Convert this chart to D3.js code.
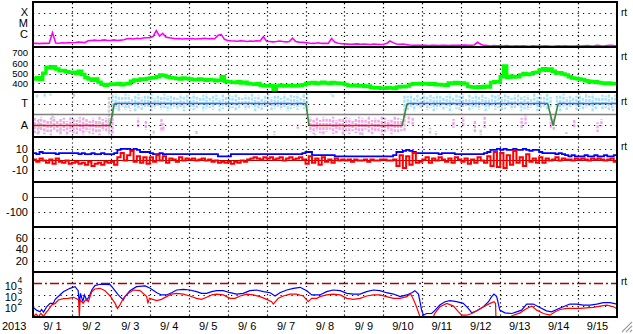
<!DOCTYPE html>
<html><head><meta charset="utf-8">
<script src="https://cdn.jsdelivr.net/npm/d3@7"></script>
<style>
body{margin:0;background:#fff;overflow:hidden}
svg{display:block;font-family:"Liberation Sans",Arial,Helvetica,sans-serif}
</style></head>
<body><svg id="c" width="633" height="334"></svg>
<script>
// ---------- labels ----------
const dayLabels = ["9/ 1","9/ 2","9/ 3","9/ 4","9/ 5","9/ 6","9/ 7","9/ 8","9/ 9","9/10","9/11","9/12","9/13","9/14","9/15"];
const yearLabel = "2013";
const xrayLabels = ["X","M","C"];
const xrayLevels = [1e-4,1e-5,1e-6];
const speedTicks = [700,600,500,400];
const sectorLabels = ["T","A"];
const bTicks = [10,-10];
const dstTicks = [-100];
const p6Ticks = [60,40,20];
const fluxExp = [4,3,2];

// ---------- data (2-hour samples, day = index/12) ----------
const xrayLog = [
-6.72,-6.70,-6.74,-6.70,-6.72,-6.70,-5.75,-6.68,-6.70,-6.66,-6.68,-6.65,
-6.66,-6.64,-6.60,-6.62,-6.65,-6.48,-6.45,-6.42,-6.46,-6.44,-6.40,-6.45,
-6.44,-6.40,-6.45,-6.42,-6.38,-6.30,-6.28,-6.32,-6.25,-6.30,-6.22,-6.20,
-6.20,-6.10,-5.55,-6.05,-5.80,-6.15,-6.20,-6.25,-6.30,-6.28,-6.32,-6.30,
-6.30,-6.28,-6.32,-6.30,-6.28,-6.25,-6.30,-6.28,-6.30,-6.00,-5.90,-6.35,
-6.45,-6.48,-6.50,-6.52,-6.48,-6.50,-6.55,-6.50,-6.52,-6.48,-6.50,-6.10,
-6.52,-6.55,-6.58,-6.55,-6.50,-6.55,-6.58,-6.55,-6.25,-6.55,-6.60,-6.62,
-6.65,-6.68,-6.72,-6.70,-6.66,-6.72,-6.70,-6.72,-6.28,-6.60,-6.70,-6.74,
-6.76,-6.78,-6.80,-6.78,-6.76,-6.80,-6.78,-6.80,-6.82,-6.78,-6.80,-6.82,
-6.80,-6.72,-6.50,-6.65,-6.78,-6.80,-6.78,-6.82,-6.86,-6.88,-6.90,-6.88,
-6.88,-6.90,-6.92,-6.88,-6.90,-6.92,-6.90,-6.88,-6.92,-6.90,-6.88,-6.90,
-6.88,-6.86,-6.90,-6.88,-6.86,-6.62,-6.80,-6.90,-6.92,-6.95,-6.92,-6.94,
-6.94,-6.96,-6.92,-6.95,-6.97,-6.94,-6.96,-6.93,-6.95,-6.98,-6.94,-6.96,
-6.95,-6.97,-6.94,-6.96,-6.98,-6.95,-6.93,-6.96,-6.94,-6.97,-6.95,-6.96,
-6.94,-6.96,-6.93,-6.92,-6.95,-6.94,-6.90,-6.93,-6.95,-6.92,-6.90,-6.92,-6.93];

const speed = [
445,460,440,510,575,565,580,555,535,540,525,520,
520,505,530,495,460,445,430,445,410,385,375,385,
390,385,395,380,390,395,420,435,430,445,440,450,
455,460,470,490,485,470,460,455,450,445,455,450,
445,440,435,445,440,430,440,435,425,430,470,420,
415,410,405,415,400,410,395,390,385,395,375,370,
365,372,320,368,375,365,370,372,365,370,375,380,
395,400,405,395,400,410,400,395,405,400,398,395,
385,372,368,375,365,370,360,368,350,345,348,342,
340,348,345,338,355,362,358,365,385,392,388,395,
390,395,385,392,380,385,378,375,400,395,405,398,
400,390,360,355,350,358,352,365,355,405,415,410,
470,590,460,475,465,470,490,505,495,500,515,520,
545,560,540,555,530,510,515,500,490,470,455,450,
445,440,425,420,410,415,405,400,395,400,390,395,395];

const phiHi = [
-0.3,-0.5,-0.2,-0.4,-0.6,-0.3,-0.2,-0.5,-0.4,-0.3,-0.6,-0.2,-0.4,-0.5,-0.3,-0.2,-0.4,-0.6,-0.3,-0.5,-0.2,-0.4,-0.3,-0.5,
1.8,
1.9,1.7,1.6,1.9,1.8,1.5,1.7,1.9,1.6,1.8,1.7,1.9,1.5,1.8,1.6,1.9,1.7,1.8,1.6,1.5,
1.9,1.7,1.8,1.6,1.9,1.7,1.5,1.8,1.9,1.6,1.7,1.8,1.5,1.9,1.6,1.8,1.7,1.9,1.6,1.5,
1.8,1.7,1.9,1.6,1.8,1.5,1.7,1.9,1.6,1.8,1.7,1.5,1.9,1.6,1.8,1.7,1.9,1.6,1.8,1.9,
-0.2,-0.4,-0.3,-0.5,-0.2,-0.3,-0.4,-0.2,-0.5,-0.3,-0.4,-0.2,-0.3,-0.5,-0.4,
-0.2,-0.3,-0.4,-0.2,-0.5,-0.3,-0.4,-0.2,-0.3,-0.5,-0.4,-0.2,-0.3,-0.4,
1.8,
1.7,1.9,1.6,1.8,1.5,1.9,1.7,1.8,1.6,1.9,1.8,1.5,1.7,1.9,1.6,1.8,1.7,1.9,1.5,1.8,
1.6,1.9,1.7,1.8,1.6,1.5,1.9,1.7,1.8,1.6,1.9,1.7,1.5,1.8,1.9,1.6,1.7,1.8,1.5,1.9,
1.6,1.8,1.7,1.9,1.6,
-0.2,
1.8,1.7,1.9,1.6,1.8,1.5,1.7,1.9,1.6,1.8,1.7,1.9,1.6,1.5,1.8,1.7,1.9,1.6,1.8];
const phiLo = [
-1.7,-1.9,-1.5,-1.8,-1.6,-1.9,-1.4,-1.7,-1.8,-1.5,-1.9,-1.6,-1.7,-1.8,-1.5,-1.9,-1.6,-1.4,-1.8,-1.7,-1.9,-1.5,-1.6,-1.8,
-1.9,
0.5,0.3,0.7,0.4,0.6,0.8,0.3,0.5,0.4,0.6,0.7,0.3,0.5,0.8,0.4,0.6,0.3,0.5,0.7,0.4,
0.6,0.3,0.8,0.5,0.4,0.6,0.7,0.3,0.5,0.6,0.4,0.8,0.3,0.5,0.7,0.4,0.6,0.3,0.5,0.8,
0.4,0.6,0.7,0.3,0.5,0.4,0.6,0.8,0.3,0.5,0.7,0.4,0.6,0.3,0.5,0.6,0.4,0.7,0.5,0.3,
-1.6,-1.8,-1.5,-1.7,-1.9,-1.6,-1.4,-1.8,-1.7,-1.5,-1.9,-1.6,-1.8,-1.5,-1.7,
-1.6,-1.9,-1.4,-1.7,-1.8,-1.5,-1.6,-1.9,-1.7,-1.5,-1.8,-1.6,-1.7,-1.5,
-1.5,
0.4,0.6,0.3,0.7,0.5,0.8,0.4,0.6,0.3,0.5,0.7,0.4,0.6,0.3,0.8,0.5,0.4,0.6,0.7,0.3,
0.5,0.6,0.4,0.8,0.3,0.5,0.7,0.4,0.6,0.3,0.5,0.8,0.4,0.6,0.7,0.3,0.5,0.4,0.6,0.8,
0.3,0.5,0.7,0.4,0.6,
-1.4,
0.5,0.3,0.7,0.4,0.6,0.8,0.3,0.5,0.4,0.6,0.7,0.3,0.5,0.8,0.4,0.6,0.3,0.5,0.7];
// extra scattered phi samples: [day, from, to]
const strayPink = [[2.7,-0.3,-1.2],[2.9,-0.5,-1.4],[3.3,-0.4,-1.6],[3.35,-0.8,-1.5],[6.8,-0.9,-1.3],[9.65,-0.1,-0.8],[9.75,-0.3,-0.9],[10.8,-0.4,-1.2],[11.05,-0.2,-1.0],[11.35,-0.5,-1.6],[11.6,-0.2,-1.3],[12.55,-0.3,-1.4],[12.65,-0.1,-0.9],[13.3,-0.2,-1.2],[13.9,-0.5,-1.3],[14.5,-0.7,-1.6],[14.6,-0.4,-1.1]];
const strayBlue = [[0.1,1.5,1.9],[0.3,1.6,1.9],[0.45,1.7,1.9],[7.65,1.7,1.9],[7.7,1.6,1.9],[8.1,1.8,1.9]];
const strayGray = [[0.15,-0.4,-1.8],[0.5,0.1,-0.6],[0.7,-1.2,-1.8],[1.05,1.5,1.9],[1.2,-0.2,-0.8],[1.45,-1.3,-1.9],[1.7,-0.5,-1.6],[1.95,1.6,-1.9],[2.2,0.4,0.9],[2.5,0.3,0.6],[3.1,-1.4,-1.9],[4.2,-1.5,-1.9],[6.2,-1.5,-1.9],[6.95,1.6,1.9],[7.25,-1.7,-1.9],[8.4,-1.6,-1.9],[10.2,-1.2,-1.9],[10.35,-1.5,-1.9],[11.5,-1.3,-1.9],[12.0,-1.4,-1.8],[13.7,-1.6,-1.9],[14.2,1.7,1.9],[14.9,0.3,0.6]];
const sectorDay = [0,1.98,2.09,7.01,7.09,9.48,9.61,13.22,13.36,13.49,15];
const sectorVal = [-1,-1,1,1,-1,-1,1,1,-1,1,1];

const bt = [
6,5,7,6,6,6,6,5,6,6,6,6,
6,6,5,6,5,5,6,5,5,6,5,5,
5,6,9,10,10,10,9,10,9,7,7,7,
6,5,5,6,5,5,5,5,5,5,5,5,
5,5,5,5,5,5,5,5,5,3,3,3,
3,5,5,5,5,5,5,5,5,5,5,5,
5,5,5,5,5,5,5,5,5,5,5,6,
7,7,4,4,4,4,4,4,4,3,3,3,
3,3,3,3,3,3,3,3,3,3,3,3,
3,3,3,4,7,7,8,9,8,7,6,6,
6,6,6,6,6,5,6,6,6,6,5,5,
5,5,5,5,5,5,5,6,7,9,9,10,
9,10,9,9,10,9,9,10,9,8,9,9,
7,6,6,6,6,5,6,5,4,3,4,3,
3,3,4,3,3,4,3,3,4,3,3,4,5];
const bz = [
0,-2,1,-1,-3,0,-4,1,-2,-3,-1,-4,
-3,-2,-4,-3,-5,-2,-6,-4,-3,-5,-2,-3,
-2,-5,2,6,-1,4,8,-2,3,-3,2,-4,
2,-2,4,-1,3,-3,1,0,-2,2,-1,1,
0,1,-1,0,1,-1,0,-2,-1,-3,-2,-3,
-2,-4,-2,-3,-1,-2,0,1,2,1,0,2,
1,2,0,1,2,-1,1,2,0,1,2,0,
-4,3,-3,1,-5,2,-2,0,-3,1,-1,0,
-1,0,-2,0,-1,-1,0,-2,0,-1,-1,0,
0,-1,-1,0,-6,4,-8,3,-5,6,-3,-2,
0,2,-3,1,-1,2,0,-2,1,-3,2,0,
-2,1,-4,0,-3,2,-1,-3,3,-6,7,-7,
6,-8,4,-5,8,-3,2,-6,5,-2,1,-3,
2,-3,1,-1,0,2,-1,1,0,0,-1,1,
0,1,0,-1,1,0,1,0,-1,0,1,-2,-3];

const fluxBlueDay = [0.01,0.09,0.18,0.22,0.27,0.31,0.35,0.44,0.52,0.57,0.69,0.78,0.95,1.08,1.16,1.19,1.22,1.28,1.32,1.38,1.45,1.51,1.59,1.72,1.98,2.06,2.19,2.32,2.36,2.49,2.66,2.88,3.01,3.18,3.30,3.43,3.56,3.69,3.86,4.03,4.20,4.33,4.46,4.59,4.72,4.89,5.06,5.23,5.40,5.57,5.74,5.92,6.09,6.22,6.34,6.52,6.69,6.86,7.03,7.16,7.29,7.37,7.54,7.71,7.89,8.06,8.23,8.40,8.57,8.74,8.91,9.08,9.26,9.43,9.60,9.73,9.81,9.90,9.94,9.98,10.03,10.11,10.24,10.33,10.45,10.58,10.71,10.88,11.05,11.18,11.27,11.40,11.57,11.70,11.78,11.84,11.91,11.95,11.99,12.12,12.30,12.42,12.55,12.68,12.85,13.02,13.19,13.32,13.45,13.62,13.79,13.96,14.14,14.31,14.48,14.65,14.82,15.0];
const fluxBlueLog = [1.85,1.61,1.46,1.67,1.43,1.67,1.91,2.21,2.21,2.57,2.96,3.25,3.55,3.70,3.34,2.21,3.10,2.36,2.96,2.51,2.87,3.40,3.79,3.91,3.88,3.55,2.96,2.51,2.81,3.34,3.70,3.76,3.55,3.16,2.96,2.96,3.16,3.40,3.46,3.40,3.25,3.10,3.10,3.25,3.34,3.34,3.16,3.04,3.10,3.34,3.40,3.25,3.16,2.87,3.16,3.40,3.55,3.64,3.34,2.96,2.96,2.96,3.25,3.40,3.34,3.10,3.04,3.04,3.25,3.40,3.34,3.16,3.04,2.81,2.96,3.16,3.34,3.04,2.36,1.61,1.16,1.31,1.31,1.61,2.06,2.36,2.45,2.36,2.21,1.76,1.37,1.55,1.91,2.36,2.81,3.04,2.81,2.21,1.61,1.37,1.31,1.46,1.61,2.15,2.15,1.85,1.55,1.46,1.67,1.91,2.15,2.15,2.06,2.06,2.15,2.27,2.27,2.15];
const fluxRedDay = [0.01,0.08,0.14,0.20,0.27,0.33,0.39,0.48,0.57,0.65,0.78,0.91,1.04,1.12,1.17,1.19,1.21,1.29,1.36,1.42,1.51,1.59,1.72,1.85,1.98,2.11,2.17,2.23,2.32,2.45,2.58,2.75,2.92,2.95,2.99,3.18,3.30,3.43,3.56,3.69,3.86,4.03,4.20,4.33,4.46,4.59,4.72,4.89,5.06,5.19,5.32,5.49,5.66,5.83,6.00,6.13,6.17,6.30,6.43,6.60,6.77,6.94,7.07,7.16,7.29,7.37,7.54,7.71,7.89,8.06,8.23,8.40,8.57,8.74,8.91,9.08,9.26,9.43,9.60,9.70,9.77,9.85,9.94,10.28,10.33,10.45,10.63,10.80,10.93,11.01,11.14,11.27,11.40,11.57,11.74,11.84,11.88,11.89,12.25,12.34,12.51,12.68,12.81,12.94,13.11,13.28,13.41,13.54,13.71,14.05,14.39,14.57,14.74,14.91,14.99];
const fluxRedLog = [1.07,1.25,1.01,1.31,1.07,1.37,1.61,2.06,2.21,2.51,2.63,2.66,2.75,2.63,2.51,1.01,2.51,2.21,2.57,2.36,3.25,3.49,3.55,3.34,2.87,2.21,1.76,2.06,2.66,3.10,3.40,3.34,2.81,2.21,2.66,2.45,2.57,2.81,3.04,3.10,3.04,2.87,2.66,2.57,2.75,2.96,3.04,2.96,2.66,2.66,2.87,3.04,2.96,2.81,2.57,2.36,2.15,2.66,2.87,3.04,3.04,2.87,2.36,2.66,2.66,2.81,2.96,3.04,2.96,2.66,2.57,2.66,2.87,2.96,2.96,2.81,2.66,2.66,2.81,3.04,2.57,1.91,1.01,1.01,1.37,1.91,2.21,1.97,1.46,1.16,1.16,1.31,1.55,1.91,2.21,2.36,2.21,1.01,1.01,1.16,1.37,1.76,1.97,1.61,1.31,1.16,1.46,1.67,1.76,1.76,1.85,1.97,2.06,1.91,1.76];

// ---------- chart ----------
const svg = d3.select("#c");
const L = 33, R = 617;
const x = d3.scaleLinear().domain([0,15]).range([L,R]);
const tops = d3.range(8).map(i => 2 + 45*i);
const yX = d3.scaleLog().domain([1e-7,1e-3]).range([46.5,2.5]);
const ySp = d3.scaleLinear().domain([300,800]).range([92,47]);
const yPh = d3.scaleLinear().domain([-2.05,2.05]).range([137,92]);
const yB = d3.scaleLinear().domain([-21,21]).range([182,137]);
const yD = d3.scaleLinear().domain([-200,100]).range([227,182]);
const yK = d3.scaleLinear().domain([0,80]).range([272,227]);
const yE = d3.scaleLog().domain([10,1e5]).range([317,272]).clamp(true);
const tOf = i => i/12;

const defs = svg.append("defs");
defs.append("clipPath").attr("id","clip").append("rect").attr("x",L).attr("y",2).attr("width",R-L).attr("height",315);

const under = svg.append("g");
const grid = svg.append("g");
function hdot(y){ grid.append("line").attr("x1",L).attr("x2",R).attr("y1",y).attr("y2",y)
  .attr("stroke","#000").attr("stroke-width",1.2).attr("stroke-dasharray","1.2,4.3"); }
function hsolid(g,y,c,w){ g.append("line").attr("x1",L).attr("x2",R).attr("y1",y).attr("y2",y)
  .attr("stroke",c).attr("stroke-width",w); }
xrayLevels.forEach(v=>hdot(Math.round(yX(v))+0.5));
speedTicks.forEach(v=>hdot(Math.round(ySp(v))+0.5));
[1,-1].forEach(v=>hdot(Math.round(yPh(v))+0.5));
bTicks.forEach(v=>hdot(Math.round(yB(v))+0.5));
dstTicks.forEach(v=>hdot(yD(v)+0.5));
p6Ticks.forEach(v=>hdot(Math.round(yK(v))+0.5));
fluxExp.slice(1).forEach(e=>hdot(Math.round(yE(Math.pow(10,e)))+0.5));
d3.range(1,15).forEach(d=>{
  grid.append("line").attr("x1",Math.round(x(d))+0.5).attr("x2",Math.round(x(d))+0.5).attr("y1",3).attr("y2",317)
   .attr("stroke","#000").attr("stroke-width",1.2).attr("stroke-dasharray","1.2,2.9");
});

const data = svg.append("g").attr("clip-path","url(#clip)");

// panel 1: X-ray
data.append("path").datum(xrayLog).attr("fill","none").attr("stroke","#ff00ff").attr("stroke-width",1.6)
  .attr("d", d3.line().x((d,i)=>x(tOf(i))).y(d=>yX(Math.pow(10,d))));

// panel 2: speed
data.append("path").datum(speed).attr("fill","none").attr("stroke","#00ff00").attr("stroke-width",3.4)
  .attr("d", d3.line().x((d,i)=>x(tOf(i))).y(d=>ySp(d)).curve(d3.curveStepAfter));

// panel 3: phi scatter
const phiG = under.append("g").attr("clip-path","url(#clip)");
let sk = 0;
function streak(day,a,b,col){
  const lo=Math.min(a,b), hi=Math.max(a,b);
  phiG.append("line").attr("x1",x(day)).attr("x2",x(day)).attr("y1",yPh(hi)).attr("y2",yPh(lo))
    .attr("stroke",col).attr("stroke-width",2.4).attr("stroke-dasharray","3,1.2")
    .attr("stroke-dashoffset",(sk++ % 4)*1.1);
}
const LB="#a6e2f8", PK="#f2a6ee", GR="#cfcfcf";
phiHi.forEach((h,i)=>{
  const lo=phiLo[i], day=(i+0.5)/12;
  if(h>0) streak(day, Math.max(lo,0.05), h, LB);
  if(lo<0) streak(day, lo, Math.min(h,-0.05), PK);
});
strayPink.forEach(s=>streak(s[0],s[1],s[2],PK));
strayBlue.forEach(s=>streak(s[0],s[1],s[2],LB));
strayGray.forEach(s=>streak(s[0],s[1],s[2],GR));
hsolid(data,yPh(0),"#808080",1.5);
for(let i=0;i<sectorDay.length-1;i++){
  const a=sectorVal[i], b=sectorVal[i+1];
  const col = a===b ? (a>0?"#4466ee":"#e01818") : "#3a8a3a";
  data.append("line").attr("x1",x(sectorDay[i])).attr("x2",x(sectorDay[i+1]))
    .attr("y1",yPh(a)).attr("y2",yPh(b)).attr("stroke",col).attr("stroke-width",1.6);
}

// panel 4: Bt / Bz
hsolid(data,Math.round(yB(0))+0.5,"#b00000",1.2);
data.append("path").datum(bt).attr("fill","none").attr("stroke","#0000ff").attr("stroke-width",1.8)
  .attr("d", d3.line().x((d,i)=>x(tOf(i))).y(d=>yB(d)).curve(d3.curveStepAfter));
data.append("path").datum(bz).attr("fill","none").attr("stroke","#ff0000").attr("stroke-width",2)
  .attr("d", d3.line().x((d,i)=>x(tOf(i))).y(d=>yB(d)).curve(d3.curveStepAfter));

// panel 5: zero line
hsolid(data,yD(0)+0.5,"#b00000",1.2);

// panel 7: electron flux
grid.append("line").attr("x1",L).attr("x2",R).attr("y1",Math.round(yE(1e4))+0.5).attr("y2",Math.round(yE(1e4))+0.5)
  .attr("stroke","#b00000").attr("stroke-width",1.3).attr("stroke-dasharray","9,3,2,3");
const blueFlux = fluxBlueDay.map((d,i)=>[d,Math.pow(10,fluxBlueLog[i])]);
const redFlux = fluxRedDay.map((d,i)=>[d,Math.pow(10,fluxRedLog[i])]);
const fl = d3.line().x(d=>x(d[0])).y(d=>yE(d[1]));
data.append("path").datum(blueFlux).attr("fill","none").attr("stroke","#0000ff").attr("stroke-width",1.2).attr("d",fl);
data.append("path").datum(redFlux).attr("fill","none").attr("stroke","#ff0000").attr("stroke-width",1.2).attr("d",fl);

// frame
const fr = svg.append("g");
tops.forEach(y=>fr.append("line").attr("x1",L-1).attr("x2",R+1).attr("y1",y).attr("y2",y).attr("stroke","#000").attr("stroke-width",2));
[L,R].forEach(xx=>fr.append("line").attr("x1",xx).attr("x2",xx).attr("y1",1).attr("y2",318).attr("stroke","#000").attr("stroke-width",2));

// labels
const lab = svg.append("g").attr("font-size",11).attr("fill","#000");
function lt(t,y,fs){ lab.append("text").attr("x",28).attr("y",y).attr("dy","0.36em").attr("text-anchor","end")
  .attr("font-size",fs||11).text(t); }
xrayLabels.forEach((t,i)=>lt(t,yX(xrayLevels[i])-1));
const spOff = [-3,-1,0,1];
speedTicks.forEach((v,i)=>lt(String(v),ySp(v)+spOff[i],9.5));
sectorLabels.forEach((t,i)=>lt(t,yPh(i===0?1:-1)));
lt("10",yB(10)); lt("0",yB(0)); lt("-10",yB(-10));
lt("0",yD(0)); dstTicks.forEach(v=>lt(String(v),yD(v)));
p6Ticks.forEach(v=>lt(String(v),yK(v)));
fluxExp.forEach(e=>{
  const y=yE(Math.pow(10,e));
  lab.append("text").attr("x",17).attr("y",y+6.5).attr("text-anchor","end").attr("font-size",11).text("10");
  lab.append("text").attr("x",17.5).attr("y",y-0.5).attr("text-anchor","start").attr("font-size",8.5).text(String(e));
});
dayLabels.forEach((t,i)=>lab.append("text").attr("x",x(i+0.5)).attr("y",330).attr("text-anchor","middle").text(t));
lab.append("text").attr("x",2).attr("y",330).text(yearLabel);
[12,56,101,146,281].forEach(y=>lab.append("text").attr("x",621).attr("y",y).attr("dy","0.36em").attr("font-size",10).text("rt"));

// size grip
const grip = svg.append("g");
[[632,322,622,332],[632,326,626,332],[632,330,630,332]].forEach(p=>{
  grip.append("line").attr("x1",p[0]).attr("y1",p[1]).attr("x2",p[2]).attr("y2",p[3]).attr("stroke","#9a9a9a").attr("stroke-width",1.2);
  grip.append("line").attr("x1",p[0]).attr("y1",p[1]+1.3).attr("x2",p[2]+1.3).attr("y2",p[3]).attr("stroke","#fff").attr("stroke-width",0.8);
});
</script></body></html>
